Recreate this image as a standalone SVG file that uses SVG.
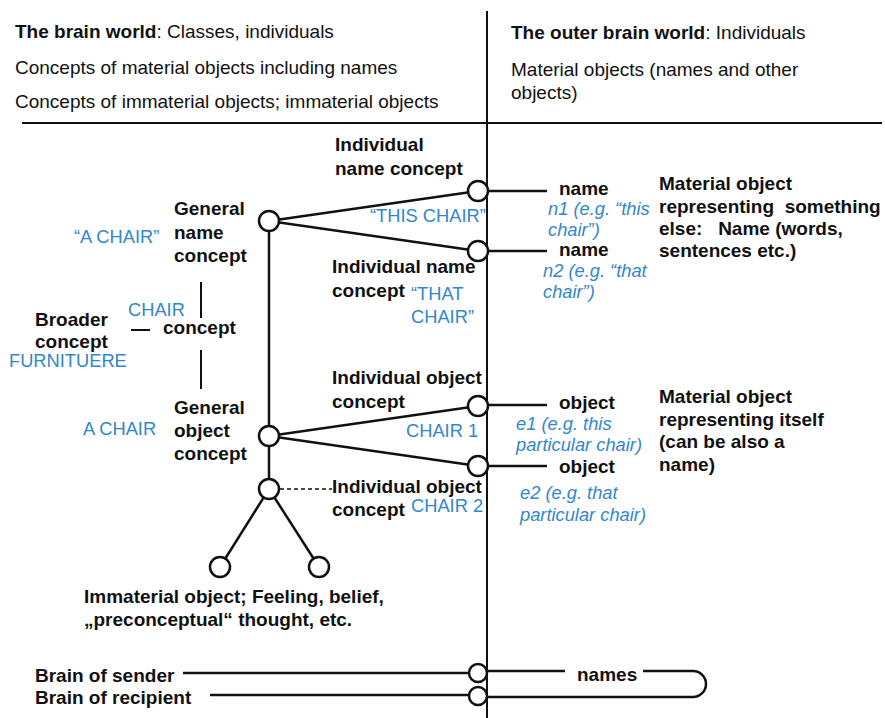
<svg xmlns="http://www.w3.org/2000/svg" width="885" height="718" viewBox="0 0 885 718">
  <style>
    text { font-family: "Liberation Sans", Arial, sans-serif; font-size: 19px; fill: #111; }
    .b { font-weight: bold; }
    .blue { fill: #3287cc; font-size: 18.3px; }
    .it { font-style: italic; }
    .pre { white-space: pre; }
    .ln { stroke: #111; stroke-width: 2.5; fill: none; }
    .thin { stroke: #111; stroke-width: 2; fill: none; }
    .dash { stroke: #111; stroke-width: 1.3; stroke-dasharray: 4 3; fill: none; }
    .node { fill: #fff; stroke: #111; stroke-width: 2.5; }
  </style>

  <rect width="885" height="718" fill="#fff"/>

  <!-- frame: divider between brain world and outer world -->
  <g id="frame">
    <line class="thin" x1="487" y1="11" x2="487" y2="718"/>
    <line class="thin" x1="22" y1="123" x2="882" y2="123"/>
  </g>

  <!-- column headers -->
  <g id="header-left">
    <text x="15" y="38"><tspan class="b">The brain world</tspan>: Classes, individuals</text>
    <text x="15" y="74">Concepts of material objects including names</text>
    <text x="15" y="108">Concepts of immaterial objects; immaterial objects</text>
  </g>
  <g id="header-right">
    <text x="511" y="39"><tspan class="b">The outer brain world</tspan>: Individuals</text>
    <text x="511" y="76">Material objects (names and other</text>
    <text x="511" y="99">objects)</text>
  </g>

  <!-- connectors -->
  <g id="connectors">
    <line class="ln" x1="269" y1="221" x2="478" y2="191"/>
    <line class="ln" x1="269" y1="221" x2="478" y2="251"/>
    <line class="ln" x1="269" y1="221" x2="269" y2="489"/>
    <line class="ln" x1="269" y1="436" x2="478" y2="406"/>
    <line class="ln" x1="269" y1="436" x2="478" y2="466"/>
    <line class="dash" x1="280" y1="489" x2="332" y2="489"/>
    <line class="ln" x1="269" y1="489" x2="220" y2="567"/>
    <line class="ln" x1="269" y1="489" x2="319" y2="567"/>
    <line class="ln" x1="487" y1="191" x2="547" y2="191"/>
    <line class="ln" x1="487" y1="251" x2="547" y2="251"/>
    <line class="ln" x1="487" y1="405" x2="547" y2="405"/>
    <line class="ln" x1="487" y1="466" x2="547" y2="466"/>
    <!-- broader concept relation -->
    <line class="thin" x1="201" y1="282" x2="201" y2="318"/>
    <line class="thin" x1="131" y1="330" x2="150" y2="330"/>
    <line class="thin" x1="201" y1="350" x2="201" y2="389"/>
    <!-- communication between brains -->
    <line class="ln" x1="183" y1="673" x2="470" y2="673"/>
    <line class="ln" x1="210" y1="695" x2="470" y2="695"/>
    <path class="ln" d="M487 671 H565 M643 671 H693 A13 13 0 0 1 693 697 H487"/>
  </g>

  <!-- nodes -->
  <g id="general-name-concept">
    <circle class="node" cx="269" cy="221" r="10"/>
    <text class="b" x="174" y="215">General</text>
    <text class="b" x="174" y="239">name</text>
    <text class="b" x="174" y="262">concept</text>
    <text class="blue" x="74" y="243">“A CHAIR”</text>
  </g>
  <g id="individual-name-concept-1">
    <circle class="node" cx="478" cy="191" r="10"/>
    <text class="b" x="335" y="151">Individual</text>
    <text class="b" x="335" y="175">name concept</text>
    <text class="blue" x="370" y="222">“THIS CHAIR”</text>
  </g>
  <g id="individual-name-concept-2">
    <circle class="node" cx="478" cy="251" r="10"/>
    <text class="b" x="332" y="273">Individual name</text>
    <text class="b" x="332" y="297">concept</text>
    <text class="blue" x="411" y="300">“THAT</text>
    <text class="blue" x="411" y="323">CHAIR”</text>
  </g>
  <g id="broader-concept">
    <text class="b" x="35" y="326">Broader</text>
    <text class="b" x="35" y="348">concept</text>
    <text class="blue" x="9" y="367">FURNITUERE</text>
    <text class="blue" x="128" y="316">CHAIR</text>
    <text class="b" x="163" y="334">concept</text>
  </g>
  <g id="general-object-concept">
    <circle class="node" cx="269" cy="436" r="10"/>
    <text class="b" x="174" y="414">General</text>
    <text class="b" x="174" y="437">object</text>
    <text class="b" x="174" y="460">concept</text>
    <text class="blue" x="83" y="435">A CHAIR</text>
  </g>
  <g id="individual-object-concept-1">
    <circle class="node" cx="478" cy="406" r="10"/>
    <text class="b" x="332" y="384">Individual object</text>
    <text class="b" x="332" y="408">concept</text>
    <text class="blue" x="406" y="437">CHAIR 1</text>
  </g>
  <g id="individual-object-concept-2">
    <circle class="node" cx="478" cy="466" r="10"/>
  </g>
  <g id="immaterial-object">
    <circle class="node" cx="269" cy="489" r="10"/>
    <text class="b" x="332" y="493">Individual object</text>
    <text class="b" x="332" y="516">concept</text>
    <text class="blue" x="411" y="512">CHAIR 2</text>
  </g>
  <g id="immaterial-leaves">
    <circle class="node" cx="220" cy="567" r="10"/>
    <circle class="node" cx="319" cy="567" r="10"/>
    <text class="b" x="84" y="603">Immaterial object; Feeling, belief,</text>
    <text class="b" x="84" y="626">„preconceptual“ thought, etc.</text>
  </g>

  <!-- outer world: names -->
  <g id="names-outer">
    <text class="b" x="559" y="195">name</text>
    <text class="blue it" x="548" y="215">n1 (e.g. “this</text>
    <text class="blue it" x="548" y="236">chair”)</text>
    <text class="b" x="559" y="256">name</text>
    <text class="blue it" x="543" y="277">n2 (e.g. “that</text>
    <text class="blue it" x="543" y="298">chair”)</text>
    <text class="b" x="659" y="190">Material object</text>
    <text class="b pre" x="659" y="213">representing  something</text>
    <text class="b pre" x="659" y="235">else:   Name (words,</text>
    <text class="b" x="659" y="257">sentences etc.)</text>
  </g>

  <!-- outer world: objects -->
  <g id="objects-outer">
    <text class="b" x="559" y="409">object</text>
    <text class="blue it" x="516" y="430">e1 (e.g. this</text>
    <text class="blue it" x="516" y="451">particular chair)</text>
    <text class="b" x="559" y="473">object</text>
    <text class="blue it" x="520" y="499">e2 (e.g. that</text>
    <text class="blue it" x="520" y="521">particular chair)</text>
    <text class="b" x="659" y="403">Material object</text>
    <text class="b" x="659" y="426">representing itself</text>
    <text class="b" x="659" y="448">(can be also a</text>
    <text class="b" x="659" y="471">name)</text>
  </g>

  <!-- sender / recipient -->
  <g id="brain-sender">
    <circle class="node" cx="478" cy="673" r="9"/>
    <text class="b" x="35" y="682">Brain of sender</text>
  </g>
  <g id="brain-recipient">
    <circle class="node" cx="478" cy="696" r="9"/>
    <text class="b" x="35" y="704">Brain of recipient</text>
  </g>
  <g id="names-transfer">
    <text class="b" x="577" y="681">names</text>
  </g>
</svg>
